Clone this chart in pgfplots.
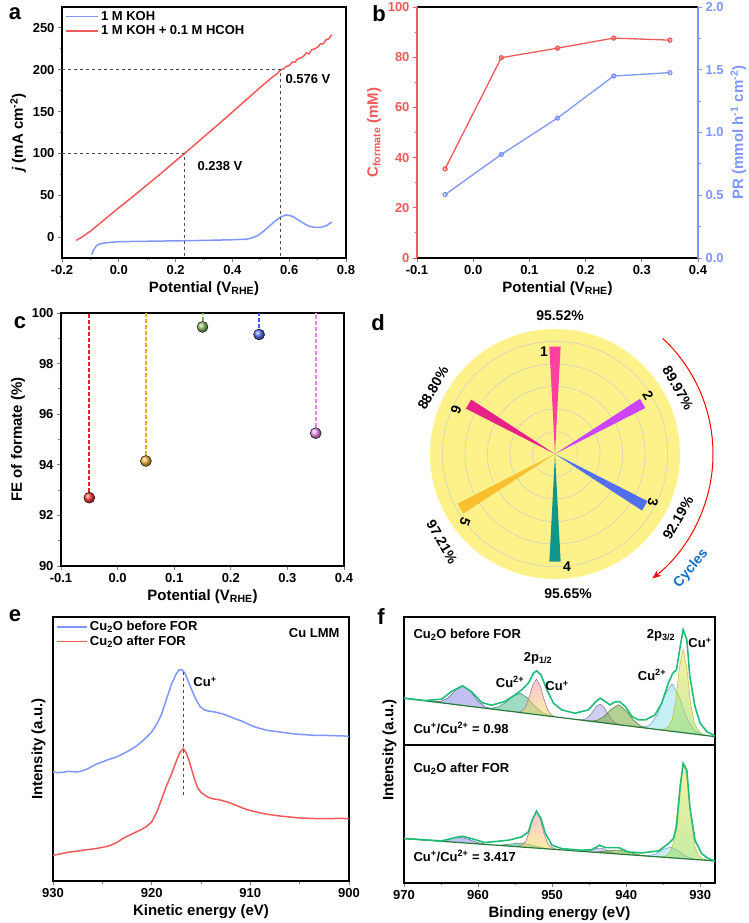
\documentclass[border=0pt]{standalone}
\usepackage{fontspec}
\setmainfont{Liberation Sans}
\usepackage{pgfplots}
\pgfplotsset{compat=1.18}
\usepgfplotslibrary{polar}
\usetikzlibrary{arrows.meta}
\newcommand{\fs}[1]{\bfseries\fontsize{#1}{#1}\selectfont}
\definecolor{lblue}{RGB}{128,150,255}
\definecolor{lred}{RGB}{240,90,90}
\definecolor{cred}{RGB}{255,30,30}
\definecolor{corange}{RGB}{248,168,32}
\definecolor{cgreen}{RGB}{120,184,80}
\definecolor{cblue}{RGB}{60,92,240}
\definecolor{cpink}{RGB}{240,128,240}
\definecolor{dyellow}{RGB}{253,242,138}
\definecolor{w1}{RGB}{255,64,160}
\definecolor{w2}{RGB}{204,68,255}
\definecolor{w3}{RGB}{80,112,240}
\definecolor{w4}{RGB}{16,150,138}
\definecolor{w5}{RGB}{248,192,48}
\definecolor{w6}{RGB}{232,32,138}
\definecolor{cyc}{RGB}{20,110,200}
\definecolor{env}{RGB}{30,190,120}
\definecolor{bas}{RGB}{40,120,60}
\definecolor{k1}{RGB}{140,140,230}
\definecolor{k2}{RGB}{80,190,150}
\definecolor{k3a}{RGB}{245,150,180}
\definecolor{k3b}{RGB}{245,225,90}
\definecolor{k4}{RGB}{170,170,230}
\definecolor{k5}{RGB}{120,170,60}
\definecolor{k6}{RGB}{150,225,235}
\definecolor{k7a}{RGB}{240,230,80}
\definecolor{k7b}{RGB}{150,220,90}
\pgfplotsset{
  base/.style={
    scale only axis, anchor=south west,
    tick label style={font=\fs{13}},
    label style={font=\fs{15}},
    /pgf/number format/assume math mode=true,
    tick align=outside,
    major tick length=4pt, minor tick length=2.5pt,
    every tick/.append style={line width=0.9pt},
    axis line style={line width=1.1pt},
    legend style={font=\fs{13}, draw=none, fill=none},
    legend cell align=left,
  },
  onedec/.style={/pgf/number format/fixed, /pgf/number format/fixed zerofill, /pgf/number format/precision=1},
  comp/.style={fill opacity=0.55, line width=0.5pt},
}
\begin{document}
\begin{tikzpicture}[x=1pt,y=1pt]
\useasboundingbox (0pt,0pt) rectangle (749pt,923pt);

% ---------------- panel a
\begin{axis}[base, tick pos=left, at={(62pt,665pt)}, width=284pt, height=251pt,
  xmin=-0.2, xmax=0.8, ymin=-25, ymax=275,
  xtick={-0.2,0,0.2,0.4,0.6,0.8}, ytick={0,50,100,150,200,250},
  minor x tick num=1, minor y tick num=1,
  xticklabel style={onedec},
  xlabel={Potential (V\textsubscript{RHE})},
  ylabel={\textit{j} (mA cm\textsuperscript{-2})},
  legend style={at={(0.0,1.0)}, anchor=north west},
  legend image code/.code={\path[draw=none,fill=none] (0pt,0pt) -- (32pt,0pt); \draw[#1, line width=1.8pt] (0pt,0pt) -- (32pt,0pt);}]
\addplot[color=lblue, line width=1.5pt] coordinates {(-0.095,-21) (-0.09,-16) (-0.08,-11) (-0.07,-8.5) (-0.05,-7) (-0.02,-6) (0,-5.5) (0.1,-5) (0.2,-4.5) (0.3,-4) (0.4,-3.2) (0.45,-2.5) (0.47,-1) (0.49,2) (0.51,7) (0.53,13) (0.55,19) (0.57,24) (0.59,26.5) (0.61,25) (0.63,21) (0.65,16.5) (0.67,13) (0.69,11.5) (0.71,11.5) (0.73,13.5) (0.75,18)};
\addlegendentry{1 M KOH}
\addplot[color=lred, line width=1.5pt] coordinates {(-0.15,-4) (-0.13,0) (-0.1,7) (-0.075,14) (-0.05,21) (-0.025,28) (0,35) (0.05,48.5) (0.1,62.5) (0.15,76.5) (0.2,91) (0.232,100) (0.3,120) (0.35,134.5) (0.4,149.5) (0.45,164.5) (0.5,179.5) (0.54,191) (0.56,196) (0.569,200) (0.58,201) (0.59,204) (0.6,205) (0.61,209) (0.62,209) (0.63,213) (0.64,214) (0.65,216) (0.66,220) (0.67,219) (0.68,224) (0.69,225) (0.70,227) (0.71,231) (0.72,231) (0.73,236) (0.74,237) (0.75,242)};
\addlegendentry{1 M KOH + 0.1 M HCOH}
\draw[dashed, black!70, line width=0.9pt] (axis cs:-0.2,100) -- (axis cs:0.232,100) -- (axis cs:0.232,-25);
\draw[dashed, black!70, line width=0.9pt] (axis cs:-0.2,200) -- (axis cs:0.569,200) -- (axis cs:0.569,-25);
\end{axis}
\node[font=\fs{13}] at (308pt,844pt) {0.576 V};
\node[font=\fs{13}] at (220pt,757pt) {0.238 V};

% ---------------- panel b
\begin{axis}[base, at={(417pt,665pt)}, width=281pt, height=251pt,
  xmin=-0.1, xmax=0.4, ymin=0, ymax=100,
  axis y line*=left, xtick pos=left,
  xtick={-0.1,0,0.1,0.2,0.3,0.4}, ytick={0,20,40,60,80,100},
  minor y tick num=1,
  xticklabel style={onedec},
  y axis line style={draw=lred},
  ytick style={draw=lred}, yticklabel style={text=lred},
  ylabel style={text=lred},
  xlabel={Potential (V\textsubscript{RHE})},
  ylabel={C\textsubscript{formate} (mM)}]
\addplot[lred, line width=1.3pt, mark=o, mark size=2pt, mark options={solid, fill=white}] coordinates {(-0.05,35.5) (0.05,79.8) (0.15,83.6) (0.25,87.6) (0.35,86.8)};
\end{axis}
\begin{axis}[base, at={(417pt,665pt)}, width=281pt, height=251pt,
  xmin=-0.1, xmax=0.4, ymin=0, ymax=2,
  axis y line*=right, axis x line=none, ytick pos=right,
  ytick={0,0.5,1,1.5,2}, minor y tick num=1,
  yticklabel style={text=lblue, onedec},
  y axis line style={draw=lblue},
  ytick style={draw=lblue},
  ylabel style={text=lblue},
  ylabel={PR (mmol h\textsuperscript{-1} cm\textsuperscript{-2})}]
\addplot[lblue, line width=1.3pt, mark=o, mark size=2pt, mark options={solid, fill=white}] coordinates {(-0.05,0.505) (0.05,0.825) (0.15,1.115) (0.25,1.45) (0.35,1.477)};
\end{axis}

% ---------------- panel c
\begin{axis}[base, tick pos=left, at={(61pt,357pt)}, width=283pt, height=253pt,
  xmin=-0.1, xmax=0.4, ymin=90, ymax=100,
  xtick={-0.1,0,0.1,0.2,0.3,0.4}, ytick={90,92,94,96,98,100},
  minor y tick num=1,
  xticklabel style={onedec},
  xlabel={Potential (V\textsubscript{RHE})},
  ylabel={FE of formate (\%)}]
\addplot[color=cred, line width=2pt, dash pattern=on 4pt off 2pt] coordinates {(-0.05,92.7) (-0.05,100)};
\addplot[color=corange, line width=2pt, dash pattern=on 4pt off 2pt] coordinates {(0.05,94.15) (0.05,100)};
\addplot[color=cgreen, line width=2pt, dash pattern=on 4pt off 2pt] coordinates {(0.15,99.45) (0.15,100)};
\addplot[color=cblue, line width=2pt, dash pattern=on 4pt off 2pt] coordinates {(0.25,99.15) (0.25,100)};
\addplot[color=cpink, line width=2pt, dash pattern=on 4pt off 2pt] coordinates {(0.35,95.25) (0.35,100)};
\addplot[only marks, mark=ball, mark size=5.5pt, ball color=cred!85!white] coordinates {(-0.05,92.7)};
\addplot[only marks, mark=ball, mark size=5.5pt, ball color=corange!85!white] coordinates {(0.05,94.15)};
\addplot[only marks, mark=ball, mark size=5.5pt, ball color=cgreen!85!white] coordinates {(0.15,99.45)};
\addplot[only marks, mark=ball, mark size=5.5pt, ball color=cblue!85!white] coordinates {(0.25,99.15)};
\addplot[only marks, mark=ball, mark size=5.5pt, ball color=cpink!85!white] coordinates {(0.35,95.25)};
\end{axis}

% ---------------- panel d
\begin{polaraxis}[at={(555pt,469pt)}, anchor=origin, scale only axis, width=250pt, height=250pt,
  ymin=0, ymax=111,
  xtick=\empty, ytick={20,40,60,80,100}, yticklabels={},
  xmajorgrids=false, ymajorgrids=true,
  major tick length=0pt,
  y grid style={black!20, line width=0.5pt},
  axis line style={draw=none},
  axis background/.style={fill=dyellow}]
\addplot[fill=w1, draw=none] coordinates {(0,0) (87,95.52) (93,95.52) (0,0)};
\addplot[fill=w2, draw=none] coordinates {(0,0) (27,89.97) (33,89.97) (0,0)};
\addplot[fill=w3, draw=none] coordinates {(0,0) (327,92.19) (333,92.19) (0,0)};
\addplot[fill=w4, draw=none] coordinates {(0,0) (267,95.65) (273,95.65) (0,0)};
\addplot[fill=w5, draw=none] coordinates {(0,0) (207,97.21) (213,97.21) (0,0)};
\addplot[fill=w6, draw=none] coordinates {(0,0) (147,88.80) (153,88.80) (0,0)};
\end{polaraxis}
\node[font=\fs{14}] at (560pt,607pt) {95.52\%};
\node[font=\fs{14}, rotate=-60] at (678pt,535pt) {89.97\%};
\node[font=\fs{14}, rotate=60] at (678pt,405pt) {92.19\%};
\node[font=\fs{14}] at (568pt,329pt) {95.65\%};
\node[font=\fs{14}, rotate=-60] at (442pt,381pt) {97.21\%};
\node[font=\fs{14}, rotate=60] at (433pt,535pt) {88.80\%};
\node[font=\fs{14}] at (544pt,571pt) {1};
\node[font=\fs{14}, rotate=-60] at (648pt,528pt) {2};
\node[font=\fs{14}, rotate=-100] at (653pt,421pt) {3};
\node[font=\fs{14}] at (567pt,356pt) {4};
\node[font=\fs{14}, rotate=-110] at (465pt,401pt) {5};
\node[font=\fs{14}, rotate=-110] at (456pt,513pt) {6};
\draw[red, line width=1pt, -{Stealth[length=9pt,width=7pt]}] (555pt,469pt) ++(47:158pt) arc[start angle=47, end angle=-52, radius=158pt];
\node[font=\fs{14}, text=cyc, rotate=50] at (691pt,354pt) {Cycles};

% ---------------- panel e
\begin{axis}[base, tick pos=left, at={(53pt,42pt)}, width=296pt, height=264pt,
  xmin=900, xmax=930, x dir=reverse, ymin=0, ymax=792,
  xtick={900,910,920,930}, minor x tick num=1, ytick=\empty,
  xlabel={Kinetic energy (eV)}, ylabel={Intensity (a.u.)},
  legend style={at={(0.0,1.0)}, anchor=north west},
  legend image code/.code={\draw[#1, line width=1.8pt] (0pt,0pt) -- (30pt,0pt);}]
\addplot[color=lblue, line width=1.5pt] coordinates {(930,327) (929.5,325) (929,326) (928.5,329) (928,328) (927.5,327) (927,331) (926.5,336) (926,345) (925.5,352) (925,357) (924.5,363) (924,368) (923.5,373) (923,380) (922.5,388) (922,396) (921.5,406) (921,418) (920.5,432) (920,447) (919.5,470) (919,500) (918.5,545) (918,590) (917.5,622) (917.2,634) (916.9,633) (916.6,622) (916.3,600) (916,578) (915.7,557) (915.4,538) (915.1,524) (914.7,514) (914.3,510) (913.8,508) (913.3,505) (912.8,501) (912.3,496) (911.8,490) (911.3,484) (910.8,479) (910.3,472) (909.8,465) (909.3,460) (908.8,456) (908.3,452) (907.5,449) (906.5,445) (905.5,441) (904.5,439) (903.5,437) (902.5,437) (901.5,436) (900.5,435) (900,434)};
\addlegendentry{Cu\textsubscript{2}O before FOR}
\addplot[color=lred, line width=1.5pt] coordinates {(930,77) (929.5,80) (929,83) (928.5,86) (928,88) (927.5,90) (927,92) (926.5,94) (926,96) (925.5,98) (925,101) (924.5,104) (924,109) (923.5,116) (923,126) (922.5,134) (922,141) (921.5,148) (921,155) (920.5,164) (920,177) (919.5,205) (919,245) (918.5,285) (918,320) (917.5,360) (917.1,388) (916.8,397) (916.5,385) (916.2,360) (915.9,330) (915.6,300) (915.3,278) (915,266) (914.6,257) (914.2,250) (913.7,246) (913.2,244) (912.7,240) (912.2,236) (911.7,230) (911.2,224) (910.7,218) (910.2,213) (909.5,208) (908.8,203) (908,199) (907,195) (906,192) (905,189) (904,188) (903,187) (902,187) (901,188) (900,187)};
\addlegendentry{Cu\textsubscript{2}O after FOR}
\draw[dashed, black!70, line width=0.9pt] (axis cs:916.8,257) -- (axis cs:916.8,632);
\end{axis}
\node[font=\fs{13}, anchor=east] at (343pt,290pt) {Cu LMM};
\node[font=\fs{13}] at (205pt,241pt) {Cu\textsuperscript{+}};

% ---------------- panel f
\begin{axis}[base, tick pos=left, at={(404pt,40pt)}, width=311pt, height=266pt,
  xmin=928, xmax=970, x dir=reverse, ymin=0, ymax=796,
  xtick={930,940,950,960,970}, minor x tick num=1, ytick=\empty,
  xlabel={Binding energy (eV)}, ylabel={Intensity (a.u.)}]
% top components
\addplot[comp, draw=k1!70!black, fill=k1] coordinates {(966.5,543.4) (966,542.5) (965,543.3) (964,554.6) (963,577.8) (962,590.1) (961,572.4) (960,543.6) (959,526.9) (958,520.6) (957.5,518.8)};
\addplot[comp, draw=k2!70!black, fill=k2] coordinates {(958.8,522.3) (958.3,523.0) (957.3,526.2) (956.3,539.5) (955.3,558.7) (954.3,568.0) (953.3,553.3) (952.3,528.5) (951.3,509.8) (950.3,501.1) (949.8,497.7)};
\addplot[comp, draw=k3a!70!black, top color=k3a, bottom color=k3b] coordinates {(954.6,510.8) (954.1,514.0) (953.6,526.1) (953.1,555.7) (952.6,592.4) (952.1,610.0) (951.6,589.6) (951.1,550.2) (950.6,517.9) (950.1,503.0) (949.6,497.1)};
\addplot[comp, draw=k4!70!black, fill=k4] coordinates {(946.5,488.7) (946,488.3) (945.5,490.6) (945,498.5) (944.5,513.2) (944,528.8) (943.5,535.4) (943,526.1) (942.5,507.7) (942,490.3) (941.5,479.7) (941,474.6) (940.5,472.2)};
\addplot[comp, draw=k5!70!black, fill=k5] coordinates {(945.5,485.9) (945,485.0) (944,485.8) (943,498.1) (942,520.3) (941,533.6) (940,514.9) (939,487.1) (938,469.4) (937,463.1) (936.5,461.3)};
\addplot[comp, draw=cblue!70, fill=k6] coordinates {(938.3,466.2) (937.8,466.1) (936.8,472.1) (935.8,503.4) (934.8,561.6) (933.8,595.9) (932.8,556.2) (931.8,492.4) (930.8,455.7) (929.8,444.2) (929.3,441.6)};
\addplot[comp, draw=k7a!80!black, top color=k7a, bottom color=k7b] coordinates {(935.8,459.4) (935.3,459.0) (934.8,460.6) (934.3,467.2) (933.8,488.9) (933.3,542.5) (932.8,645.2) (932.3,699.8) (931.8,642.4) (931.3,537.0) (930.8,480.7) (930.3,456.3) (929.8,446.9) (929.3,442.6) (928.8,440.2)};
\addplot[bas, line width=1.2pt] coordinates {(970,553) (928,438)};
\addplot[env, line width=1.6pt] coordinates {(970,553) (967.2,546) (964.9,550) (963.6,573) (962.1,590) (960.9,573) (959.5,540) (958.2,532) (956.4,543) (955.0,563) (954.1,578) (953.2,598) (952.5,628) (952.1,635) (951.5,623) (950.7,578) (949.8,538) (948.7,518) (946.9,508) (945.1,518) (944.1,543) (943.5,553) (942.8,543) (942.2,533) (941.5,542) (940.9,543) (940.1,528) (939.2,498) (938.3,488) (937.4,488) (936.1,503) (935.2,538) (934.3,598) (933.7,628) (933.2,638) (932.7,708) (932.3,758) (931.8,728) (931.4,618) (930.7,528) (930.0,478) (929.1,453) (928.0,440)};
% bottom components
\addplot[comp, draw=k1!70!black, fill=k1] coordinates {(965.8,126.3) (965.3,126.5) (964.3,128.9) (963.3,134.3) (962.3,136.7) (961.3,131.1) (960.3,122.5) (959.3,116.9) (958.8,115.1)};
\addplot[comp, draw=k2!70!black, fill=k2] coordinates {(957.5,113.1) (957,113.3) (956,115.7) (955,118.1) (954,119.5) (953,114.9) (952,109.3) (951,103.7) (950.5,101.9)};
\addplot[comp, draw=k3a!70!black, top color=k3a, bottom color=k3b] coordinates {(955.1,109.2) (954.6,110.4) (954.1,113.6) (953.6,122.8) (953.1,151.0) (952.6,193.2) (952.1,214.4) (951.6,191.6) (951.1,147.8) (950.6,118.0) (950.1,107.2) (949.6,102.4) (949.1,99.7)};
\addplot[comp, draw=k4!70!black, fill=k4] coordinates {(946,94.7) (945.5,95.1) (945,96.6) (944.5,99.9) (944,103.5) (943.5,104.7) (943,101.9) (942.5,96.7) (942,91.8) (941.5,88.7) (941,86.7)};
\addplot[comp, draw=k5!70!black, fill=k5] coordinates {(944.5,92.3) (944,92.5) (943,94.9) (942,97.3) (941,98.7) (940,94.1) (939,88.5) (938,83.0) (937.5,81.2)};
\addplot[comp, draw=cblue!70, fill=k6] coordinates {(937.5,81.2) (937,81.8) (936,86.8) (935,100.2) (934,107.6) (933,97.0) (932,80.4) (931,72.2) (930.5,70.0)};
\addplot[comp, draw=k7a!80!black, top color=k7a, bottom color=k7b] coordinates {(935.7,78.3) (935.2,78.5) (934.7,80.7) (934.2,87.9) (933.7,113.1) (933.2,191.3) (932.7,301.5) (932.2,357.7) (931.7,299.9) (931.2,188.1) (930.7,108.3) (930.2,81.5) (929.7,72.7) (929.2,68.9) (928.7,67.1)};
\addplot[bas, line width=1.2pt] coordinates {(970,133) (928,66)};
\addplot[env, line width=1.6pt] coordinates {(970,133) (964.9,126) (963.1,136) (962.1,140) (960.9,133) (959.1,121) (955.9,128) (954.1,138) (953.2,153) (952.7,188) (952.1,215) (951.5,193) (950.9,148) (950.0,113) (948.7,103) (946.0,98) (944.6,100) (943.6,113) (942.8,106) (941.0,106) (939.7,93) (937.9,90) (935.6,96) (934.3,118) (933.6,133) (933.2,168) (932.7,288) (932.3,358) (931.8,338) (931.4,228) (930.7,128) (929.8,88) (928.9,73) (928.0,66)};
\draw[line width=1.1pt] (axis cs:970,413) -- (axis cs:928,413);
\end{axis}
\node[font=\fs{13}, anchor=west] at (410pt,288pt) {Cu\textsubscript{2}O before FOR};
\node[font=\fs{13}, anchor=west] at (410pt,195pt) {Cu\textsuperscript{+}/Cu\textsuperscript{2+} = 0.98};
\node[font=\fs{13}, anchor=west] at (410pt,154pt) {Cu\textsubscript{2}O after FOR};
\node[font=\fs{13}, anchor=west] at (410pt,67pt) {Cu\textsuperscript{+}/Cu\textsuperscript{2+} = 3.417};
\node[font=\fs{13}] at (510pt,241pt) {Cu\textsuperscript{2+}};
\node[font=\fs{13}] at (538pt,265pt) {2p\textsubscript{1/2}};
\node[font=\fs{13}] at (557pt,237pt) {Cu\textsuperscript{+}};
\node[font=\fs{13}] at (652pt,248pt) {Cu\textsuperscript{2+}};
\node[font=\fs{13}] at (661pt,288pt) {2p\textsubscript{3/2}};
\node[font=\fs{13}] at (700pt,280pt) {Cu\textsuperscript{+}};

% panel letters
\node[font=\fs{22}] at (15pt,909pt) {a};
\node[font=\fs{22}] at (379pt,909pt) {b};
\node[font=\fs{22}] at (20pt,600pt) {c};
\node[font=\fs{22}] at (378pt,600pt) {d};
\node[font=\fs{22}] at (15pt,307pt) {e};
\node[font=\fs{22}] at (381pt,306pt) {f};
\end{tikzpicture}
\end{document}
